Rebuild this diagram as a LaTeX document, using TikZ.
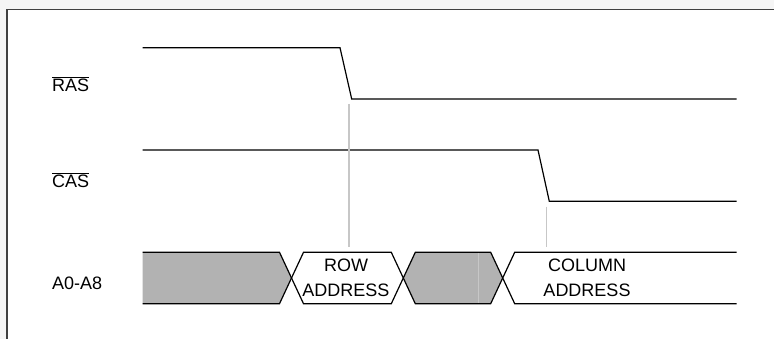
\documentclass[tikz,border=0pt]{standalone}
\usepackage{fontspec}
\setmainfont{Liberation Sans}
\begin{document}
\begin{tikzpicture}[x=1pt, y=-1pt, font=\fontsize{18}{25}\selectfont,
    frame/.style={black!75, line width=1.6pt},
    sig/.style={black, line width=1.2pt, line join=miter},
    guide/.style={black!22, line width=1.1pt},
    busfill/.style={fill=black!30},
    label/.style={inner sep=0pt}]
      \useasboundingbox (0,0) rectangle (774,339);
      \fill[black!4] (0,0) rectangle (774,339);
      \fill[white] (7,9.5) rectangle (774,339);
      \draw[frame] (7,339) -- (7,9.5) -- (774,9.5);
      % signal names
      \node (ras) [label, anchor=base west] at (52,91.5) {$\overline{\mbox{RAS}}$};
      \node (cas) [label, anchor=base west] at (52,187.3) {$\overline{\mbox{CAS}}$};
      \node (addr) [label, anchor=base west] at (52,289) {A0-A8};
      % strobes
      \draw[sig] (142.7,47.7) -- (340,47.7) -- (351.7,99) -- (736.7,99);
      \draw[sig] (142.7,150) -- (538,150) -- (549.3,201.3) -- (736.7,201.3);
      \draw[guide] (349,104) -- (349,247)
                   (546.7,206.7) -- (546.7,247);
      % address bus
      \fill[busfill] (142.7,252.3) -- (279.5,252.3) -- (291.5,278) -- (279.5,303.7) -- (142.7,303.7) -- cycle;
      \draw[sig] (142.7,252.3) -- (279.5,252.3) -- (291.5,278) -- (279.5,303.7) -- (142.7,303.7);
      \draw[sig] (291.5,278) -- (303.5,252.3) -- (391.3,252.3) -- (403.3,278)
                 -- (391.3,303.7) -- (303.5,303.7) -- cycle;
      \draw[sig, busfill] (403.3,278) -- (415.3,252.3) -- (490.7,252.3) -- (502.7,278)
                 -- (490.7,303.7) -- (415.3,303.7) -- cycle;
      \draw[guide] (478.3,253) -- (478.3,303);
      \draw[sig] (736.7,252.3) -- (514.7,252.3) -- (502.7,278) -- (514.7,303.7) -- (736.7,303.7);
      \node (row) [label, align=center] at (346,278) {ROW\\ADDRESS};
      \node (col) [label, align=center] at (587,278) {COLUMN\\ADDRESS};
\end{tikzpicture}
\end{document}
